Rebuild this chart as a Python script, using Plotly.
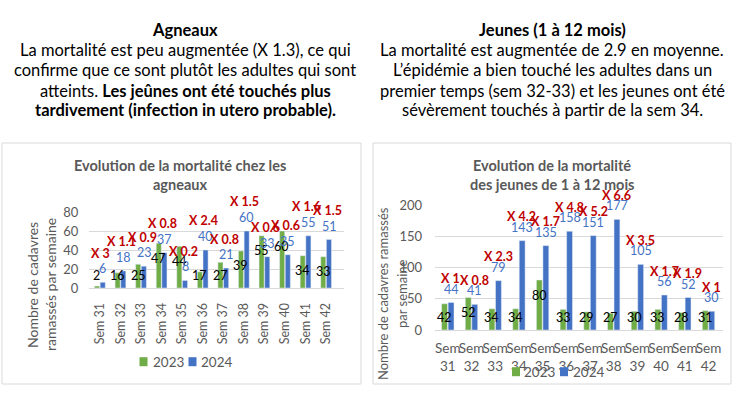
import plotly.graph_objects as go

# ---------------- data ----------------
weeks = ["Sem 31", "Sem 32", "Sem 33", "Sem 34", "Sem 35", "Sem 36",
         "Sem 37", "Sem 38", "Sem 39", "Sem 40", "Sem 41", "Sem 42"]
series_names = ["2023", "2024"]

agneaux_2023 = [2, 16, 25, 47, 44, 17, 27, 39, 55, 60, 34, 33]
agneaux_2024 = [6, 18, 23, 37, 8, 40, 21, 60, 33, 35, 55, 51]
agneaux_ratio = [3, 1.1, 0.9, 0.8, 0.2, 2.4, 0.8, 1.5, 0.6, 0.6, 1.6, 1.5]

jeunes_2023 = [42, 52, 34, 34, 80, 33, 29, 27, 30, 33, 28, 31]
jeunes_2024 = [44, 41, 79, 143, 135, 158, 151, 177, 105, 56, 52, 30]
jeunes_ratio = [1, 0.8, 2.3, 4.2, 1.7, 4.8, 5.2, 6.6, 3.5, 1.7, 1.9, 1]

left_text = ["<b>Agneaux</b>",
             "La mortalité est peu augmentée (X 1.3), ce qui",
             "confirme que ce sont plutôt les adultes qui sont",
             "atteints. <b>Les jeûnes ont été touchés plus</b>",
             "<b>tardivement (infection in utero probable).</b>"]
right_text = ["<b>Jeunes (1 à 12 mois)</b>",
              "La mortalité est augmentée de 2.9 en moyenne.",
              "L’épidémie a bien touché les adultes dans un",
              "premier temps (sem 32-33) et les jeunes ont été",
              "sévèrement touchés à partir de la sem 34."]
left_title = ["Evolution de la mortalité chez les", "agneaux"]
right_title = ["Evolution de la mortalité", "des jeunes de 1 à 12 mois"]
left_ytitle = ["Nombre de cadavres", "ramassés par semaine"]
right_ytitle = ["Nombre de cadavres ramassés", "par semaine"]

# ---------------- style ----------------
W, H = 749, 397
GREEN = "#70AD47"
BLUE = "#4472C4"
GRAY = "#595959"
GRID = "#D9D9D9"
RED = "#C00000"
FONT = "Lato"


def px(x):
    return x / W


def py(y):
    return 1 - y / H


L_AREA = (89.4, 343.6, 212, 288)
R_AREA = (435, 723, 205, 330)
L_RANGE = 80
R_RANGE = 200

fig = go.Figure()

fig.add_trace(go.Bar(x=weeks, y=agneaux_2023, name=series_names[0], marker_color=GREEN,
                     xaxis="x", yaxis="y", showlegend=False))
fig.add_trace(go.Bar(x=weeks, y=agneaux_2024, name=series_names[1], marker_color=BLUE,
                     xaxis="x", yaxis="y", showlegend=False))
fig.add_trace(go.Bar(x=weeks, y=jeunes_2023, name=series_names[0], marker_color=GREEN,
                     xaxis="x2", yaxis="y2", showlegend=False))
fig.add_trace(go.Bar(x=weeks, y=jeunes_2024, name=series_names[1], marker_color=BLUE,
                     xaxis="x2", yaxis="y2", showlegend=False))

annotations = []
shapes = []


def add_labels(xref, yref, area, rng, v23, v24, ratio, xoff, ratio_shift, ratio_xshift):
    scale = (area[3] - area[2]) / rng
    for w, a, b, r in zip(weeks, v23, v24, ratio):
        shift = max(a * scale - 15, 13)
        annotations.append(dict(x=w, y=0, xref=xref, yref=yref, text=str(a),
                                showarrow=False, xshift=-xoff, yshift=shift,
                                font=dict(family=FONT, size=12.5, color="#000000")))
        annotations.append(dict(x=w, y=b, xref=xref, yref=yref, text=str(b),
                                showarrow=False, xshift=xoff, yshift=13.5,
                                font=dict(family=FONT, size=12.5, color=BLUE)))
        annotations.append(dict(x=w, y=b, xref=xref, yref=yref, text=f"<b>X {r:g}</b>",
                                showarrow=False, xshift=ratio_xshift, yshift=ratio_shift,
                                font=dict(family=FONT, size=12.5, color=RED)))


add_labels("x", "y", L_AREA, L_RANGE, agneaux_2023, agneaux_2024, agneaux_ratio, 3, 29, 1)
add_labels("x2", "y2", R_AREA, R_RANGE, jeunes_2023, jeunes_2024, jeunes_ratio, 3.3, 24, 3)


def lines(texts, xc, ys, size, color):
    for t, yv in zip(texts, ys):
        annotations.append(dict(x=px(xc), y=py(yv), xref="paper", yref="paper",
                                xanchor="center", yanchor="middle", showarrow=False,
                                text=t, font=dict(family=FONT, size=size, color=color)))


def vlines(texts, xs, yc, size, color):
    for t, xv in zip(texts, xs):
        annotations.append(dict(x=px(xv), y=py(yc), xref="paper", yref="paper",
                                xanchor="center", yanchor="middle", showarrow=False,
                                textangle=-90, text=t,
                                font=dict(family=FONT, size=size, color=color)))


text_rows = [30, 50, 70, 90.5, 110]
lines(left_text, 185, text_rows, 16.5, "#000000")
lines(right_text, 552, text_rows, 16.5, "#000000")
lines([f"<b>{t}</b>" for t in left_title], 180, [165, 185], 14.5, GRAY)
lines([f"<b>{t}</b>" for t in right_title], 552, [165, 185], 14.5, GRAY)
vlines(left_ytitle, [32, 50], 285, 14, GRAY)
vlines(right_ytitle, [383, 402], 294, 13, GRAY)


def legend(items, yc):
    for (x0, x1, tx, color, label) in items:
        shapes.append(dict(type="rect", xref="paper", yref="paper",
                           x0=px(x0), x1=px(x1), y0=py(yc + 4.5), y1=py(yc - 4.5),
                           fillcolor=color, line=dict(width=0)))
        annotations.append(dict(x=px(tx), y=py(yc), xref="paper", yref="paper",
                                xanchor="left", yanchor="middle", showarrow=False,
                                text=label, font=dict(family=FONT, size=13.5, color=GRAY)))


legend([(139.5, 147.5, 150.5, GREEN, series_names[0]),
        (188.5, 196.5, 199, BLUE, series_names[1])], 361.7)
legend([(512, 520, 521.5, GREEN, series_names[0]),
        (560, 568, 570.5, BLUE, series_names[1])], 371.7)

shapes.append(dict(type="rect", xref="paper", yref="paper", x0=px(2), x1=px(361),
                   y0=py(384), y1=py(143), line=dict(color=GRID, width=1)))
shapes.append(dict(type="rect", xref="paper", yref="paper", x0=px(373), x1=px(731),
                   y0=py(384), y1=py(143), line=dict(color=GRID, width=1)))

fig.update_layout(
    width=W, height=H, autosize=False,
    margin=dict(l=0, r=0, t=0, b=0, autoexpand=False),
    paper_bgcolor="white", plot_bgcolor="white",
    barmode="group", bargap=0.45, bargroupgap=0.1,
    annotations=annotations, shapes=shapes,
    xaxis=dict(domain=[px(L_AREA[0]), px(L_AREA[1])], anchor="y", type="category",
               showline=True, linecolor=GRID, linewidth=1, showgrid=False, automargin=False,
               tickangle=-90, tickfont=dict(family=FONT, size=12.5, color=GRAY),
               ticks="", ticklabelstandoff=9),
    yaxis=dict(domain=[py(L_AREA[3]), py(L_AREA[2])], anchor="x", range=[0, L_RANGE],
               dtick=20, showgrid=True, gridcolor=GRID, zeroline=False, automargin=False,
               tickfont=dict(family=FONT, size=13, color=GRAY), ticks="",
               ticklabelstandoff=10),
    xaxis2=dict(domain=[px(R_AREA[0]), px(R_AREA[1])], anchor="y2", type="category",
                showline=True, linecolor=GRID, linewidth=1, showgrid=False, automargin=False,
                tickvals=weeks, ticktext=[w.replace(" ", "<br>") for w in weeks],
                tickangle=0, tickfont=dict(family=FONT, size=13.5, color=GRAY),
                ticks="", ticklabelstandoff=6),
    yaxis2=dict(domain=[py(R_AREA[3]), py(R_AREA[2])], anchor="x2", range=[0, R_RANGE],
                dtick=50, showgrid=True, gridcolor=GRID, zeroline=False, automargin=False,
                tickfont=dict(family=FONT, size=13, color=GRAY), ticks="",
                ticklabelstandoff=12),
)
fig.update_traces(cliponaxis=False)

fig.write_html("out.html", config={"displayModeBar": False, "responsive": False},
               post_script="document.body.style.margin='0';"
                           "document.documentElement.style.overflow='hidden';")
